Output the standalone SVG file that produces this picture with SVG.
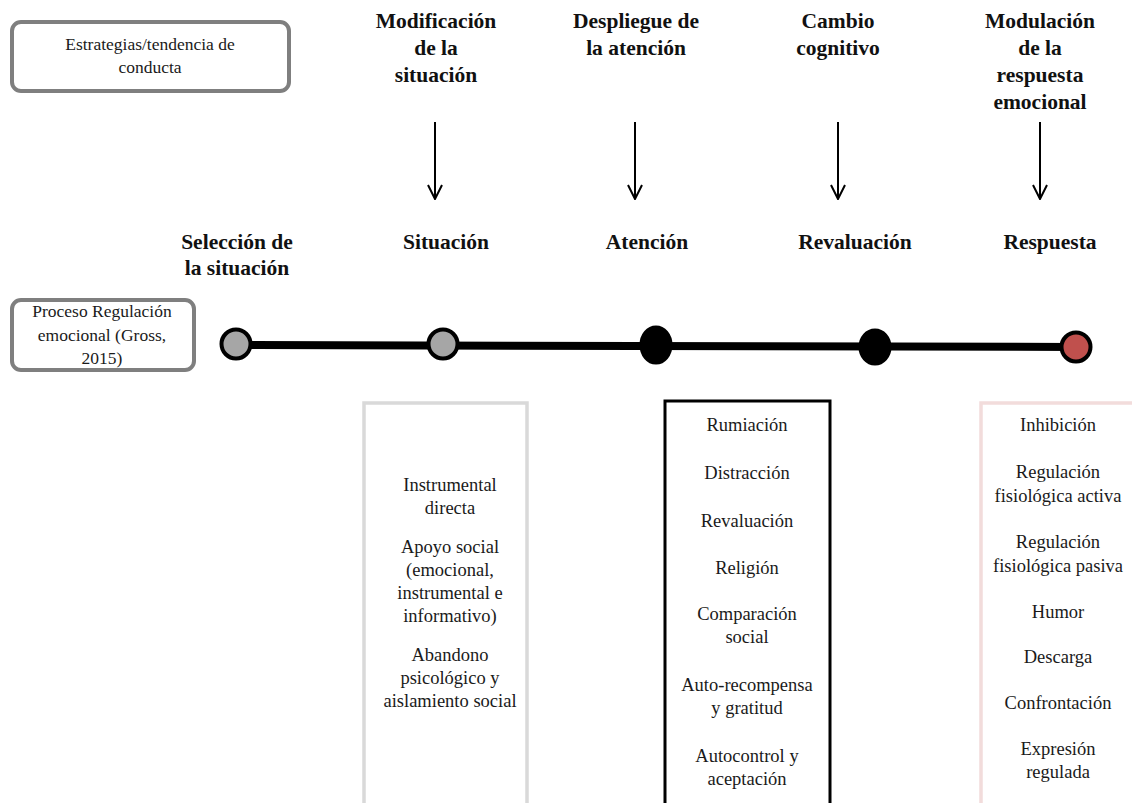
<svg xmlns="http://www.w3.org/2000/svg" width="1132" height="803" viewBox="0 0 1132 803">
  <defs>
    <style>
      .lbl { font-family: "Liberation Serif", "DejaVu Serif", serif; font-size: 17.5px; fill: #1a1a1a; text-anchor: middle; }
      .head { font-family: "Liberation Serif", "DejaVu Serif", serif; font-size: 21.5px; font-weight: bold; fill: #111; text-anchor: middle; }
      .item { font-family: "Liberation Serif", "DejaVu Serif", serif; font-size: 18.5px; fill: #1a1a1a; text-anchor: middle; }
      .legend { fill: #fff; stroke: #7f7f7f; stroke-width: 4; }
      .arrow { stroke: #000; stroke-width: 2; fill: none; }
      .dot { stroke: #000; stroke-width: 4; }
    </style>
    <!-- open V arrowhead, drawn along +x so orient="auto" points it down the line -->
    <marker id="vhead" viewBox="0 0 16 16" refX="15" refY="8" markerWidth="16" markerHeight="16" markerUnits="userSpaceOnUse" orient="auto">
      <path d="M1,1 L15,8 L1,15" fill="none" stroke="#000" stroke-width="2"/>
    </marker>
  </defs>

  <rect width="1132" height="803" fill="#fff"/>

  <!-- legend boxes -->
  <g id="legend-strategies">
    <rect class="legend" x="12" y="22" width="277" height="69" rx="9"/>
    <text class="lbl" x="150" y="50">Estrategias/tendencia de</text>
    <text class="lbl" x="150" y="73">conducta</text>
  </g>
  <g id="legend-process">
    <rect class="legend" x="12" y="300" width="182" height="70" rx="9"/>
    <text class="lbl" x="102" y="317">Proceso Regulación</text>
    <text class="lbl" x="102" y="341">emocional (Gross,</text>
    <text class="lbl" x="102" y="364">2015)</text>
  </g>

  <!-- strategy headings -->
  <g id="h-modificacion">
    <text class="head" x="436" y="28">Modificación</text>
    <text class="head" x="436" y="55">de la</text>
    <text class="head" x="436" y="82">situación</text>
  </g>
  <g id="h-despliegue">
    <text class="head" x="636" y="28">Despliegue de</text>
    <text class="head" x="636" y="55">la atención</text>
  </g>
  <g id="h-cambio">
    <text class="head" x="838" y="28">Cambio</text>
    <text class="head" x="838" y="55">cognitivo</text>
  </g>
  <g id="h-modulacion">
    <text class="head" x="1040" y="28">Modulación</text>
    <text class="head" x="1040" y="55">de la</text>
    <text class="head" x="1040" y="82">respuesta</text>
    <text class="head" x="1040" y="109">emocional</text>
  </g>

  <!-- process stage labels -->
  <g id="s-seleccion">
    <text class="head" x="237" y="249">Selección de</text>
    <text class="head" x="237" y="275">la situación</text>
  </g>
  <g id="s-situacion"><text class="head" x="446" y="249">Situación</text></g>
  <g id="s-atencion"><text class="head" x="647" y="249">Atención</text></g>
  <g id="s-revaluacion"><text class="head" x="855" y="249">Revaluación</text></g>
  <g id="s-respuesta"><text class="head" x="1050" y="249">Respuesta</text></g>

  <!-- connectors -->
  <g id="connectors">
    <line class="arrow" x1="435" y1="122" x2="435" y2="199" marker-end="url(#vhead)"/>
    <line class="arrow" x1="635" y1="122" x2="635" y2="199" marker-end="url(#vhead)"/>
    <line class="arrow" x1="838" y1="122" x2="838" y2="199" marker-end="url(#vhead)"/>
    <line class="arrow" x1="1040" y1="122" x2="1040" y2="199" marker-end="url(#vhead)"/>
    <line x1="236" y1="345" x2="1076" y2="347" stroke="#000" stroke-width="8"/>
  </g>

  <!-- timeline points -->
  <g id="p-seleccion"><circle class="dot" cx="236" cy="344" r="14.5" fill="#a6a6a6"/></g>
  <g id="p-situacion"><circle class="dot" cx="443" cy="344" r="14.5" fill="#a6a6a6"/></g>
  <g id="p-atencion"><ellipse class="dot" cx="656" cy="345" rx="14.5" ry="17.5" fill="#000"/></g>
  <g id="p-revaluacion"><ellipse class="dot" cx="875" cy="347" rx="14.5" ry="16.5" fill="#000"/></g>
  <g id="p-respuesta"><circle class="dot" cx="1076" cy="347" r="14.5" fill="#c0504d"/></g>

  <!-- strategy lists -->
  <g id="list-situacion">
    <rect x="364" y="403" width="163" height="420" fill="none" stroke="#d9d9d9" stroke-width="3.5"/>
    <text class="item" x="450" y="491">Instrumental</text>
    <text class="item" x="450" y="514">directa</text>
    <text class="item" x="450" y="553">Apoyo social</text>
    <text class="item" x="450" y="576">(emocional,</text>
    <text class="item" x="450" y="599">instrumental e</text>
    <text class="item" x="450" y="622">informativo)</text>
    <text class="item" x="450" y="661">Abandono</text>
    <text class="item" x="450" y="684">psicológico y</text>
    <text class="item" x="450" y="707">aislamiento social</text>
  </g>
  <g id="list-atencion">
    <rect x="665" y="401" width="165" height="420" fill="none" stroke="#000" stroke-width="3"/>
    <text class="item" x="747" y="431">Rumiación</text>
    <text class="item" x="747" y="479">Distracción</text>
    <text class="item" x="747" y="527">Revaluación</text>
    <text class="item" x="747" y="574">Religión</text>
    <text class="item" x="747" y="620">Comparación</text>
    <text class="item" x="747" y="643">social</text>
    <text class="item" x="747" y="691">Auto-recompensa</text>
    <text class="item" x="747" y="714">y gratitud</text>
    <text class="item" x="747" y="762">Autocontrol y</text>
    <text class="item" x="747" y="785">aceptación</text>
  </g>
  <g id="list-respuesta">
    <rect x="981" y="403" width="170" height="420" fill="none" stroke="#f2dcdb" stroke-width="3.5"/>
    <text class="item" x="1058" y="431">Inhibición</text>
    <text class="item" x="1058" y="478">Regulación</text>
    <text class="item" x="1058" y="502">fisiológica activa</text>
    <text class="item" x="1058" y="548">Regulación</text>
    <text class="item" x="1058" y="572">fisiológica pasiva</text>
    <text class="item" x="1058" y="618">Humor</text>
    <text class="item" x="1058" y="663">Descarga</text>
    <text class="item" x="1058" y="709">Confrontación</text>
    <text class="item" x="1058" y="755">Expresión</text>
    <text class="item" x="1058" y="778">regulada</text>
  </g>
</svg>
